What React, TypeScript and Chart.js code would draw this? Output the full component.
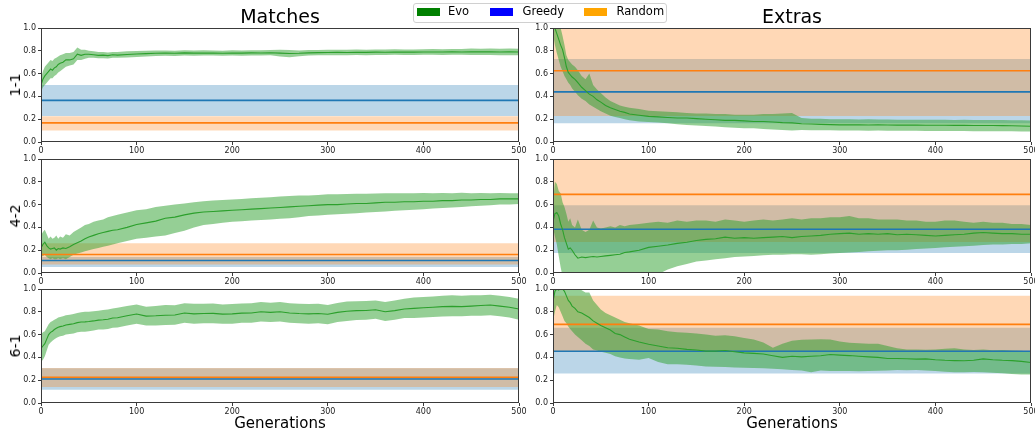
import React, { useEffect, useRef } from "react";
import { Chart, registerables } from "chart.js";

Chart.register(...registerables);
Chart.defaults.font.family = "'DejaVu Sans', sans-serif";

// ---------------- DATA ----------------
const gens = [
  0, 2, 4, 6, 8, 10, 12, 14, 16, 18, 20,
  23, 26, 30, 34, 38, 42, 46, 50,
  55, 60, 65, 70, 75, 80,
  90, 100, 110, 120, 130, 140, 150, 160, 170, 180,
  190, 200, 210, 220, 230, 240, 250, 260, 270, 280,
  290, 300, 310, 320, 330, 340, 350, 360, 370, 380,
  390, 400, 410, 420, 430, 440, 450, 460, 470, 480,
  490, 500,
];

const columnTitles = ["Matches", "Extras"];
const levels = ["1-1", "4-2", "6-1"];
const xTickLabel = "Generations";
const legendLabels = ["Evo", "Greedy", "Random"];

// Evo, Matches, 1-1
const evoMatch11Mean = [
  0.50, 0.55, 0.58, 0.60, 0.62, 0.64, 0.63, 0.65, 0.66, 0.68, 0.69,
  0.70, 0.72, 0.72, 0.73, 0.77, 0.76, 0.77, 0.77,
  0.765, 0.76, 0.762, 0.758, 0.765, 0.762,
  0.768, 0.772, 0.775, 0.778, 0.78, 0.778, 0.782, 0.78, 0.781, 0.78,
  0.779, 0.781, 0.78, 0.782, 0.781, 0.783, 0.78, 0.776, 0.778, 0.782,
  0.784, 0.785, 0.786, 0.785, 0.787, 0.786, 0.788, 0.787, 0.789, 0.788,
  0.788, 0.789, 0.79, 0.789, 0.791, 0.79, 0.792, 0.791, 0.792, 0.79,
  0.791, 0.79,
];
const evoMatch11Hi = [
  0.56, 0.62, 0.66, 0.68, 0.70, 0.72, 0.71, 0.73, 0.74, 0.75, 0.76,
  0.77, 0.78, 0.78, 0.79, 0.83, 0.81, 0.81, 0.80,
  0.795, 0.79, 0.79, 0.785, 0.79, 0.79,
  0.795, 0.798, 0.8, 0.802, 0.803, 0.801, 0.805, 0.803, 0.804, 0.802,
  0.801, 0.804, 0.803, 0.805, 0.804, 0.806, 0.81, 0.808, 0.803, 0.806,
  0.808, 0.809, 0.81, 0.809, 0.811, 0.81, 0.812, 0.811, 0.813, 0.812,
  0.812, 0.813, 0.815, 0.814, 0.816, 0.815, 0.82, 0.818, 0.82, 0.818,
  0.82, 0.818,
];
const evoMatch11Lo = [
  0.44, 0.48, 0.50, 0.52, 0.54, 0.56, 0.56, 0.58, 0.59, 0.61, 0.62,
  0.64, 0.66, 0.67, 0.68, 0.72, 0.72, 0.73, 0.74,
  0.74, 0.735, 0.735, 0.732, 0.74, 0.738,
  0.742, 0.746, 0.75, 0.754, 0.757, 0.755, 0.759, 0.757, 0.758, 0.758,
  0.757, 0.758, 0.757, 0.759, 0.758, 0.76, 0.75, 0.744, 0.753, 0.758,
  0.76, 0.761, 0.762, 0.761, 0.763, 0.762, 0.764, 0.763, 0.765, 0.764,
  0.764, 0.765, 0.765, 0.764, 0.766, 0.765, 0.764, 0.764, 0.764, 0.762,
  0.762, 0.762,
];

// Evo, Extras, 1-1
const evoExtra11Mean = [
  1.05, 1.00, 0.95, 0.90, 0.85, 0.81, 0.74, 0.66, 0.61, 0.59, 0.57,
  0.55, 0.52, 0.48, 0.45, 0.42, 0.40, 0.37, 0.35,
  0.32, 0.30, 0.285, 0.27, 0.26, 0.245,
  0.235, 0.225, 0.22, 0.215, 0.21, 0.21, 0.205, 0.2, 0.195, 0.19,
  0.19, 0.185, 0.18, 0.18, 0.175, 0.17, 0.168, 0.16, 0.158, 0.155,
  0.152, 0.15, 0.151, 0.15, 0.149, 0.15, 0.149, 0.148, 0.148, 0.148,
  0.147, 0.147, 0.147, 0.146, 0.146, 0.145, 0.145, 0.145, 0.144, 0.142,
  0.14, 0.138,
];
const evoExtra11Hi = [
  1.10, 1.10, 1.10, 1.05, 1.00, 0.93, 0.85, 0.76, 0.72, 0.70, 0.68,
  0.66, 0.63, 0.58, 0.55, 0.60, 0.50, 0.46, 0.43,
  0.39, 0.36, 0.34, 0.32, 0.31, 0.30,
  0.29, 0.275, 0.27, 0.265, 0.26, 0.255, 0.25, 0.25, 0.245, 0.245,
  0.24, 0.24, 0.24, 0.245, 0.245, 0.25, 0.255, 0.21, 0.205, 0.205,
  0.2, 0.2, 0.2, 0.198, 0.2, 0.198, 0.197, 0.196, 0.196, 0.196,
  0.195, 0.195, 0.195, 0.194, 0.195, 0.194, 0.194, 0.193, 0.193, 0.19,
  0.19, 0.188,
];
const evoExtra11Lo = [
  0.95, 0.85, 0.78, 0.72, 0.66, 0.62, 0.58, 0.55, 0.52, 0.50, 0.47,
  0.44, 0.41, 0.38, 0.36, 0.33, 0.31, 0.29, 0.27,
  0.25, 0.23, 0.22, 0.21, 0.2, 0.19,
  0.18, 0.175, 0.17, 0.165, 0.155, 0.15, 0.145, 0.14, 0.135, 0.13,
  0.125, 0.12, 0.12, 0.115, 0.11, 0.105, 0.1, 0.105, 0.104, 0.103,
  0.102, 0.1, 0.1, 0.1, 0.099, 0.1, 0.099, 0.098, 0.098, 0.098,
  0.097, 0.097, 0.097, 0.096, 0.096, 0.095, 0.095, 0.095, 0.094, 0.094,
  0.093, 0.092,
];

// Evo, Matches, 4-2
const evoMatch42Mean = [
  0.22, 0.25, 0.27, 0.24, 0.22, 0.21, 0.215, 0.22, 0.20, 0.215, 0.21,
  0.22, 0.215, 0.23, 0.25, 0.265, 0.28, 0.30, 0.315,
  0.33, 0.345, 0.355, 0.365, 0.375, 0.38,
  0.40, 0.425, 0.44, 0.455, 0.48, 0.49, 0.51, 0.525, 0.535, 0.54,
  0.545, 0.55, 0.555, 0.56, 0.565, 0.57, 0.575, 0.58, 0.585, 0.59,
  0.595, 0.6, 0.6, 0.605, 0.61, 0.61, 0.615, 0.62, 0.62, 0.625,
  0.625, 0.63, 0.63, 0.635, 0.635, 0.64, 0.64, 0.645, 0.645, 0.65,
  0.65, 0.65,
];
const evoMatch42Hi = [
  0.33, 0.36, 0.38, 0.34, 0.30, 0.32, 0.30, 0.31, 0.33, 0.30, 0.32,
  0.31, 0.34, 0.33, 0.36, 0.38, 0.40, 0.42, 0.43,
  0.45, 0.46, 0.47, 0.49, 0.50, 0.51,
  0.53, 0.55, 0.56, 0.58, 0.59, 0.60, 0.61, 0.62, 0.63, 0.635,
  0.64, 0.645, 0.65, 0.655, 0.66, 0.665, 0.67, 0.675, 0.68, 0.68,
  0.685, 0.69, 0.69, 0.692, 0.695, 0.695, 0.697, 0.7, 0.7, 0.7,
  0.7, 0.702, 0.7, 0.702, 0.7, 0.703, 0.7, 0.702, 0.7, 0.702,
  0.7, 0.7,
];
const evoMatch42Lo = [
  0.14, 0.15, 0.16, 0.14, 0.13, 0.12, 0.13, 0.12, 0.12, 0.13, 0.12,
  0.13, 0.12, 0.14, 0.16, 0.17, 0.18, 0.19, 0.20,
  0.21, 0.22, 0.23, 0.24, 0.25, 0.26,
  0.28, 0.30, 0.31, 0.32, 0.33, 0.35, 0.37, 0.40, 0.42, 0.43,
  0.44, 0.45, 0.455, 0.46, 0.465, 0.47, 0.475, 0.48, 0.49, 0.5,
  0.505, 0.51, 0.515, 0.52, 0.525, 0.53, 0.535, 0.54, 0.545, 0.55,
  0.555, 0.56, 0.565, 0.57, 0.575, 0.58, 0.585, 0.59, 0.595, 0.6,
  0.6, 0.605,
];

// Evo, Extras, 4-2
const evoExtra42Mean = [
  0.45, 0.52, 0.53, 0.50, 0.43, 0.38, 0.31, 0.26, 0.21, 0.22, 0.20,
  0.16, 0.13, 0.14, 0.135, 0.14, 0.145, 0.14, 0.145,
  0.15, 0.155, 0.16, 0.165, 0.18, 0.185,
  0.2, 0.225, 0.235, 0.245, 0.26, 0.27, 0.285, 0.295, 0.30, 0.315,
  0.305, 0.31, 0.305, 0.31, 0.315, 0.32, 0.31, 0.32, 0.325, 0.33,
  0.34, 0.345, 0.35, 0.34, 0.345, 0.34, 0.345, 0.335, 0.34, 0.335,
  0.33, 0.325, 0.33, 0.335, 0.34, 0.35, 0.355, 0.35, 0.345, 0.345,
  0.34, 0.34,
];
const evoExtra42Hi = [
  0.62, 0.80, 0.78, 0.72, 0.70, 0.62, 0.58, 0.52, 0.45, 0.48, 0.42,
  0.40, 0.47, 0.38, 0.36, 0.38, 0.46, 0.40, 0.39,
  0.40, 0.41, 0.40, 0.42, 0.41, 0.42,
  0.43, 0.44, 0.45, 0.44, 0.46, 0.45, 0.46, 0.46, 0.45, 0.47,
  0.46, 0.45, 0.46, 0.47, 0.46, 0.47, 0.48, 0.47, 0.48, 0.48,
  0.49, 0.49, 0.50, 0.48, 0.48, 0.47, 0.47, 0.47, 0.46, 0.46,
  0.45, 0.45, 0.46, 0.46, 0.45, 0.44, 0.45, 0.44, 0.44, 0.43,
  0.43, 0.42,
];
const evoExtra42Lo = [
  0.40, 0.32, 0.25, 0.15, 0.05, -0.03, -0.08, -0.1, -0.1, -0.1, -0.1,
  -0.1, -0.1, -0.1, -0.1, -0.1, -0.1, -0.1, -0.1,
  -0.1, -0.1, -0.1, -0.1, -0.1, -0.1,
  -0.1, -0.05, -0.01, 0.03, 0.06, 0.08, 0.1, 0.11, 0.12, 0.13,
  0.14, 0.145, 0.15, 0.155, 0.16, 0.16, 0.165, 0.165, 0.16, 0.165,
  0.17, 0.175, 0.18, 0.185, 0.19, 0.195, 0.20, 0.20, 0.205, 0.21,
  0.215, 0.22, 0.225, 0.23, 0.235, 0.24, 0.245, 0.25, 0.25, 0.255,
  0.255, 0.26,
];

// Evo, Matches, 6-1
const evoMatch61Mean = [
  0.48, 0.50, 0.52, 0.56, 0.60, 0.62, 0.63, 0.645, 0.655, 0.665, 0.67,
  0.675, 0.685, 0.69, 0.695, 0.705, 0.71, 0.712, 0.715,
  0.72, 0.727, 0.73, 0.735, 0.745, 0.748,
  0.765, 0.78, 0.762, 0.765, 0.77, 0.772, 0.79, 0.782, 0.785, 0.786,
  0.78, 0.782, 0.788, 0.79, 0.8, 0.795, 0.8, 0.79, 0.785, 0.782,
  0.785, 0.778, 0.795, 0.805, 0.81, 0.812, 0.818, 0.8, 0.81, 0.825,
  0.83, 0.835, 0.84, 0.845, 0.848, 0.845, 0.85, 0.855, 0.86, 0.85,
  0.84, 0.825,
];
const evoMatch61Hi = [
  0.60, 0.62, 0.63, 0.66, 0.69, 0.71, 0.72, 0.73, 0.74, 0.75, 0.755,
  0.76, 0.77, 0.775, 0.78, 0.79, 0.795, 0.80, 0.80,
  0.805, 0.81, 0.815, 0.82, 0.83, 0.835,
  0.85, 0.865, 0.845, 0.85, 0.86, 0.858, 0.875, 0.87, 0.87, 0.872,
  0.865, 0.868, 0.872, 0.875, 0.885, 0.88, 0.885, 0.875, 0.87, 0.868,
  0.87, 0.86, 0.878, 0.89, 0.892, 0.895, 0.9, 0.885, 0.9, 0.915,
  0.925, 0.93, 0.935, 0.94, 0.945, 0.94, 0.945, 0.945, 0.95, 0.94,
  0.93, 0.915,
];
const evoMatch61Lo = [
  0.36, 0.38, 0.41, 0.46, 0.51, 0.53, 0.545, 0.56, 0.57, 0.58, 0.585,
  0.59, 0.60, 0.605, 0.61, 0.62, 0.625, 0.625, 0.63,
  0.635, 0.645, 0.645, 0.65, 0.66, 0.662,
  0.68, 0.695, 0.68, 0.68, 0.685, 0.686, 0.705, 0.695, 0.70, 0.70,
  0.695, 0.696, 0.704, 0.705, 0.715, 0.71, 0.715, 0.705, 0.7, 0.696,
  0.7, 0.69, 0.71, 0.72, 0.728, 0.73, 0.74, 0.72, 0.73, 0.745,
  0.745, 0.75, 0.755, 0.758, 0.762, 0.76, 0.765, 0.765, 0.77, 0.76,
  0.75, 0.73,
];

// Evo, Extras, 6-1
const evoExtra61Mean = [
  0.89, 0.98, 1.0, 0.99, 1.01, 1.0, 0.98, 0.94, 0.90, 0.88, 0.85,
  0.83, 0.80, 0.79, 0.77, 0.75, 0.72, 0.70, 0.68,
  0.66, 0.64, 0.61, 0.60, 0.58, 0.56,
  0.535, 0.515, 0.50, 0.485, 0.48, 0.47, 0.465, 0.455, 0.455, 0.46,
  0.45, 0.44, 0.435, 0.43, 0.415, 0.40, 0.41, 0.405, 0.41, 0.415,
  0.425, 0.42, 0.416, 0.41, 0.405, 0.40, 0.39, 0.39, 0.388, 0.385,
  0.387, 0.38, 0.375, 0.372, 0.37, 0.375, 0.387, 0.38, 0.375, 0.372,
  0.365, 0.355,
];
const evoExtra61Hi = [
  1.05, 1.05, 1.05, 1.05, 1.05, 1.05, 1.05, 1.05, 1.05, 1.05, 1.05,
  1.05, 1.02, 0.99, 0.97, 0.97, 0.9, 0.86, 0.82,
  0.79, 0.77, 0.75, 0.73, 0.71, 0.70,
  0.68, 0.65, 0.645, 0.63, 0.62, 0.616, 0.61, 0.6, 0.59, 0.595,
  0.585, 0.57, 0.557, 0.53, 0.484, 0.52, 0.545, 0.555, 0.557, 0.56,
  0.558, 0.54, 0.528, 0.525, 0.52, 0.52, 0.5, 0.48, 0.47, 0.47,
  0.468, 0.47, 0.475, 0.48, 0.47, 0.465, 0.47, 0.462, 0.465, 0.46,
  0.458, 0.45,
];
const evoExtra61Lo = [
  0.72, 0.80, 0.86, 0.84, 0.80, 0.76, 0.72, 0.70, 0.67, 0.65, 0.63,
  0.60, 0.58, 0.55, 0.52, 0.50, 0.47, 0.46, 0.45,
  0.44, 0.43, 0.41, 0.40, 0.39, 0.385,
  0.38, 0.395, 0.36, 0.34, 0.34, 0.335, 0.33, 0.32, 0.318, 0.315,
  0.312, 0.31, 0.308, 0.305, 0.30, 0.295, 0.29, 0.285, 0.27, 0.285,
  0.28, 0.28, 0.28, 0.278, 0.28, 0.282, 0.285, 0.29, 0.288, 0.29,
  0.285, 0.28, 0.275, 0.27, 0.27, 0.272, 0.27, 0.265, 0.26, 0.255,
  0.25, 0.25,
];

// Baselines, one value per level (1-1, 4-2, 6-1)
const greedyMatchMean = [0.365, 0.11, 0.211];
const greedyMatchLo = [0.228, 0.053, 0.117];
const greedyMatchHi = [0.50, 0.14, 0.305];
const randomMatchMean = [0.168, 0.162, 0.225];
const randomMatchLo = [0.10, 0.074, 0.141];
const randomMatchHi = [0.226, 0.26, 0.308];

const greedyExtraMean = [0.44, 0.384, 0.454];
const greedyExtraLo = [0.165, 0.176, 0.258];
const greedyExtraHi = [0.728, 0.595, 0.66];
const randomExtraMean = [0.625, 0.69, 0.69];
const randomExtraLo = [0.228, 0.273, 0.454];
const randomExtraHi = [1.05, 1.1, 0.941];

const xTicks = [0, 100, 200, 300, 400, 500];
const yTicks = [0.0, 0.2, 0.4, 0.6, 0.8, 1.0];

// ---------------- LAYOUT ----------------
const PLOT_W = 478;
const PLOT_H = 114;
const PAD_L = 40;
const PAD_T = 8;
const PAD_R = 14;
const PAD_B = 18;
const CANVAS_W = PLOT_W + PAD_L + PAD_R;
const CANVAS_H = PLOT_H + PAD_T + PAD_B;
const COL_LEFT = [41, 553];
const ROW_TOP = [28, 159, 289];

const GREEN = "#2ca02c";
const BLUE = "#1f77b4";
const ORANGE = "#ff7f0e";
const AXIS = "#3a3a3a";

const boxPlugin = {
  id: "box",
  afterDatasetsDraw(chart: any) {
    const { ctx, chartArea: a } = chart;
    ctx.save();
    ctx.strokeStyle = AXIS;
    ctx.lineWidth = 1;
    ctx.strokeRect(
      Math.round(a.left) + 0.5,
      Math.round(a.top) + 0.5,
      Math.round(a.right - a.left) - 1,
      Math.round(a.bottom - a.top) - 1
    );
    ctx.restore();
  },
};

type PanelProps = {
  left: number;
  top: number;
  mean: number[];
  lo: number[];
  hi: number[];
  gm: number;
  glo: number;
  ghi: number;
  rm: number;
  rlo: number;
  rhi: number;
};

function Panel(p: PanelProps) {
  const ref = useRef<HTMLCanvasElement>(null);
  useEffect(() => {
    const pts = (arr: number[]) => gens.map((g, i) => ({ x: g, y: arr[i] }));
    const flat = (v: number) => [
      { x: xTicks[0], y: v },
      { x: xTicks[xTicks.length - 1], y: v },
    ];
    const base = { pointRadius: 0, pointHoverRadius: 0, tension: 0 };
    const chart = new Chart(ref.current as HTMLCanvasElement, {
      type: "line",
      data: {
        datasets: [
          { ...base, data: pts(p.mean), borderColor: GREEN, borderWidth: 1.1, fill: false, order: 0 },
          { ...base, data: flat(p.gm), borderColor: BLUE, borderWidth: 1.6, fill: false, order: 1 },
          { ...base, data: flat(p.rm), borderColor: ORANGE, borderWidth: 1.6, fill: false, order: 2 },
          { ...base, data: pts(p.lo), borderWidth: 0, borderColor: "rgba(0,0,0,0)", fill: false, order: 3 },
          { ...base, data: pts(p.hi), borderWidth: 0, borderColor: "rgba(0,0,0,0)", backgroundColor: "rgba(44,160,44,0.5)", fill: { target: 3 }, order: 3 },
          { ...base, data: flat(p.rlo), borderWidth: 0, borderColor: "rgba(0,0,0,0)", fill: false, order: 4 },
          { ...base, data: flat(p.rhi), borderWidth: 0, borderColor: "rgba(0,0,0,0)", backgroundColor: "rgba(255,127,14,0.3)", fill: { target: 5 }, order: 4 },
          { ...base, data: flat(p.glo), borderWidth: 0, borderColor: "rgba(0,0,0,0)", fill: false, order: 5 },
          { ...base, data: flat(p.ghi), borderWidth: 0, borderColor: "rgba(0,0,0,0)", backgroundColor: "rgba(31,119,180,0.3)", fill: { target: 7 }, order: 5 },
        ] as any,
      },
      options: {
        animation: false,
        responsive: false,
        devicePixelRatio: 1,
        events: [],
        layout: { padding: { top: PAD_T, right: PAD_R, left: 0, bottom: 0 } },
        plugins: { legend: { display: false }, tooltip: { enabled: false } },
        scales: {
          x: {
            type: "linear",
            min: xTicks[0],
            max: xTicks[xTicks.length - 1],
            afterBuildTicks: (s: any) => {
              s.ticks = xTicks.map((v) => ({ value: v }));
            },
            afterFit: (s: any) => {
              s.height = PAD_B;
            },
            ticks: {
              autoSkip: false,
              maxRotation: 0,
              padding: 1,
              color: "#222",
              font: { size: 8 },
              callback: (v: any) => String(v),
            },
            grid: { drawOnChartArea: false, drawTicks: true, tickLength: 3, color: AXIS },
            border: { display: false },
          },
          y: {
            min: yTicks[0],
            max: yTicks[yTicks.length - 1],
            afterBuildTicks: (s: any) => {
              s.ticks = yTicks.map((v) => ({ value: v }));
            },
            afterFit: (s: any) => {
              s.width = PAD_L;
            },
            ticks: {
              autoSkip: false,
              padding: 2,
              color: "#222",
              font: { size: 8 },
              callback: (v: any) => Number(v).toFixed(1),
            },
            grid: { drawOnChartArea: false, drawTicks: true, tickLength: 3, color: AXIS },
            border: { display: false },
          },
        },
      } as any,
      plugins: [boxPlugin],
    });
    return () => chart.destroy();
  }, []);
  return (
    <canvas
      ref={ref}
      width={CANVAS_W}
      height={CANVAS_H}
      style={{
        position: "absolute",
        left: p.left - PAD_L,
        top: p.top - PAD_T,
        width: CANVAS_W,
        height: CANVAS_H,
      }}
    />
  );
}

const evoMatch = [
  [evoMatch11Mean, evoMatch11Lo, evoMatch11Hi],
  [evoMatch42Mean, evoMatch42Lo, evoMatch42Hi],
  [evoMatch61Mean, evoMatch61Lo, evoMatch61Hi],
];
const evoExtra = [
  [evoExtra11Mean, evoExtra11Lo, evoExtra11Hi],
  [evoExtra42Mean, evoExtra42Lo, evoExtra42Hi],
  [evoExtra61Mean, evoExtra61Lo, evoExtra61Hi],
];

const textBase: React.CSSProperties = {
  position: "absolute",
  fontFamily: "'DejaVu Sans', sans-serif",
  color: "#000",
  whiteSpace: "nowrap",
  lineHeight: 1,
};

export default function App() {
  const legendColors = ["#008000", "#0000ff", "#ffa500"];
  const legendPatchX = [417, 490, 584];
  const legendTextX = [448, 522.5, 616.5];
  return (
    <div
      style={{
        position: "fixed",
        left: 0,
        top: 0,
        width: 1035,
        height: 436,
        overflow: "hidden",
        background: "#fff",
      }}
    >
      {levels.map((lv, r) => (
        <React.Fragment key={lv}>
          <Panel
            left={COL_LEFT[0]}
            top={ROW_TOP[r]}
            mean={evoMatch[r][0]}
            lo={evoMatch[r][1]}
            hi={evoMatch[r][2]}
            gm={greedyMatchMean[r]}
            glo={greedyMatchLo[r]}
            ghi={greedyMatchHi[r]}
            rm={randomMatchMean[r]}
            rlo={randomMatchLo[r]}
            rhi={randomMatchHi[r]}
          />
          <Panel
            left={COL_LEFT[1]}
            top={ROW_TOP[r]}
            mean={evoExtra[r][0]}
            lo={evoExtra[r][1]}
            hi={evoExtra[r][2]}
            gm={greedyExtraMean[r]}
            glo={greedyExtraLo[r]}
            ghi={greedyExtraHi[r]}
            rm={randomExtraMean[r]}
            rlo={randomExtraLo[r]}
            rhi={randomExtraHi[r]}
          />
          <div
            style={{
              ...textBase,
              fontSize: 14,
              left: 15,
              top: ROW_TOP[r] + PLOT_H / 2,
              transform: "translate(-50%, -50%) rotate(-90deg)",
            }}
          >
            {lv}
          </div>
        </React.Fragment>
      ))}
      {columnTitles.map((t, c) => (
        <div
          key={t}
          style={{
            ...textBase,
            fontSize: 19,
            top: 7,
            left: COL_LEFT[c] + PLOT_W / 2,
            transform: "translateX(-50%)",
          }}
        >
          {t}
        </div>
      ))}
      {columnTitles.map((t, c) => (
        <div
          key={t + "x"}
          style={{
            ...textBase,
            fontSize: 15,
            top: 416,
            left: COL_LEFT[c] + PLOT_W / 2,
            transform: "translateX(-50%)",
          }}
        >
          {xTickLabel}
        </div>
      ))}
      <div
        style={{
          position: "absolute",
          left: 413,
          top: 2.5,
          width: 254,
          height: 20,
          boxSizing: "border-box",
          border: "1px solid #d0d0d0",
          borderRadius: 3,
          background: "rgba(255,255,255,0.8)",
        }}
      />
      {legendLabels.map((l, i) => (
        <React.Fragment key={l}>
          <div
            style={{
              position: "absolute",
              left: legendPatchX[i],
              top: 8,
              width: 23,
              height: 8,
              background: legendColors[i],
            }}
          />
          <div style={{ ...textBase, fontSize: 11.5, left: legendTextX[i], top: 6 }}>{l}</div>
        </React.Fragment>
      ))}
    </div>
  );
}
